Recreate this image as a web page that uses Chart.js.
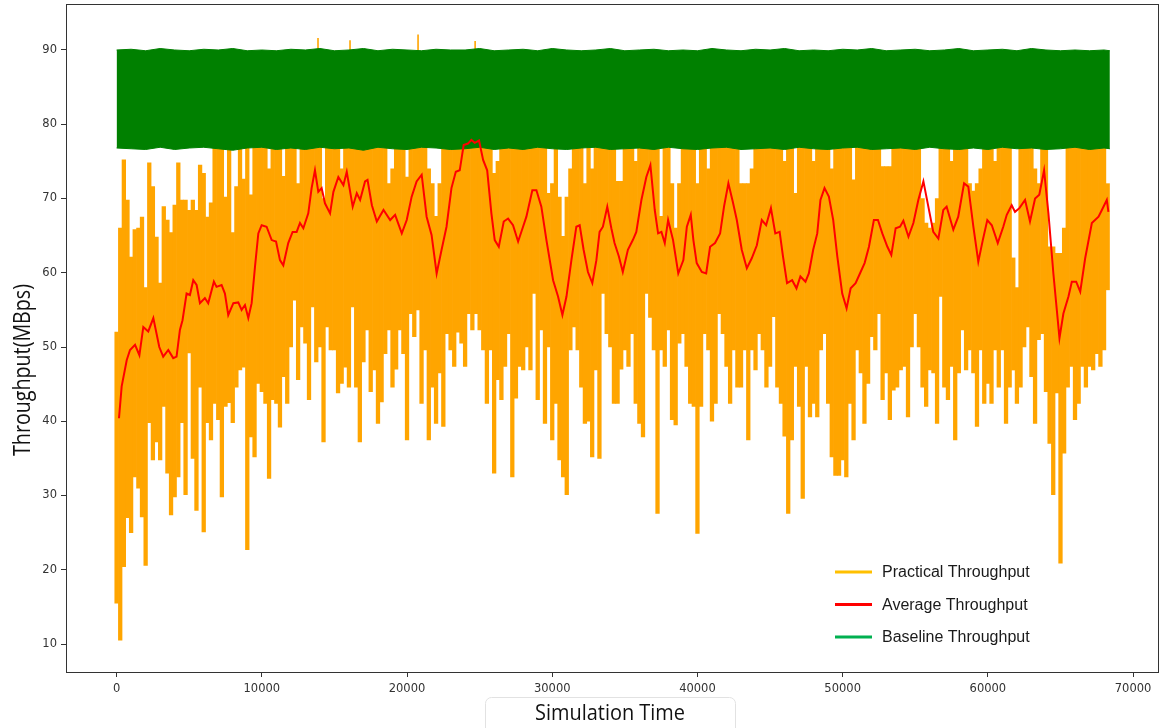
<!DOCTYPE html>
<html>
<head>
<meta charset="utf-8">
<title>Throughput over simulation time</title>
<script src="https://cdn.jsdelivr.net/npm/chart.js@4.4.1/dist/chart.umd.min.js"></script>
<style>
  html, body { margin: 0; padding: 0; background: #fff; }
  #wrap { width: 1161px; height: 728px; }
</style>
</head>
<body>
<div id="wrap"><canvas id="throughputChart" width="1161" height="728"></canvas></div>
<script>
// practical throughput: min and max of the samples in each 250-unit time slot
const sampleStep = 250;
const practicalLow = [
  15.5, 10.5, 20.4, 27, 25, 32.5, 31, 27.1, 20.6, 39.8,
  34.8, 37.2, 34.8, 42, 33, 27.4, 29.8, 32.5, 39.8, 30.1,
  49.2, 35, 28, 44.6, 25.1, 39.8, 37.5, 42.4, 40.2, 29.8,
  42, 42.5, 39.8, 44.6, 46.9, 47.3, 22.7, 37.9, 35.2, 45.1,
  44, 42.4, 32.3, 42.9, 42.4, 39.2, 46, 42.4, 50, 56.3,
  45.6, 52.7, 50.5, 42.9, 55.4, 48, 50, 37.2, 52.7, 49.6,
  49.6, 43.8, 45.1, 47.3, 44.6, 55.4, 44.6, 37.2,
  48, 52.3, 44, 46.9, 39.7, 42.6, 49.1, 52.3, 44.6, 47,
  52.3, 49.1, 37.5, 54.5, 51.4, 55, 42.4, 49.6, 37.5, 44.6,
  39.7, 46.5, 39.3, 51.8, 49.6, 47.4, 52, 50.5, 47.4, 54.5,
  52.3, 54.5, 52.3, 49.6, 42.4, 49.6, 33, 45.6, 42.9, 47.4,
  51.8, 32.5, 43.1, 47.4, 46.9, 50, 46.9, 57.2, 42.9, 52.3,
  39.7, 50, 37.5, 42.4, 34.8, 32.5, 30.1, 49.6, 52.7, 49.6,
  44.6, 39.7, 40, 35.2, 46.9, 35, 57.2, 51.8,
  50, 42.4, 42.4, 47, 49.6, 47.4, 51.8, 42.4, 39.7, 37.9,
  57.2, 54, 49.6, 27.6, 49.6, 47.4, 52.3, 40.2, 39.5, 50.5,
  51.8, 47.4, 42.4, 42, 24.9, 42, 51.8, 49.6, 40, 42.4,
  54.5, 51.8, 47.4, 42.4, 49.6, 44.6, 44.6, 49.6, 37.5, 49.6,
  46.9, 51.8, 49.6, 44.6, 47.4, 54.1, 44.6, 42.4, 38, 27.6,
  37.5, 47.4, 42, 29.6, 47.4, 40.6, 42.4, 40.6, 49.6, 51.8,
  42.4, 35.2, 32.7, 32.7, 34.8, 32.5, 42.4, 37.5, 49.6,
  46.5, 39.7, 45.1, 51.4, 49.6, 54.5, 42.9, 46.5, 40.2, 44.2,
  44.6, 46.9, 47.4, 40.6, 50, 54.5, 50, 44.6, 42, 46.9,
  46.5, 39.7, 56.8, 44.6, 42.9, 47.4, 37.5, 46.5, 52.3, 46.9,
  49.6, 46.5, 39.3, 49.6, 42.4, 45.1, 42.4, 49.6, 44.6, 49.6,
  39.7, 44.6, 46.9, 42.4, 44.6, 50, 52.7, 46, 39.7, 51,
  51.8, 44, 37, 30.1, 43.8, 20.9, 35.7, 44.6, 47.4, 40.2,
  42.4, 47.4, 44.6, 47.4, 46.9, 49.1, 47.4, 49.6, 57.7
];
const practicalHigh = [
  52, 66, 75.2, 69.8, 62.1, 65.8, 66, 67.5, 58, 74.8,
  71.6, 64.8, 58.6, 68.9, 67.1, 65.4, 69.1, 74.8, 69.8, 69.8,
  68.4, 69.8, 68.4, 74.5, 73.4, 67.5, 69.4, 77, 77, 77,
  70.2, 77, 65.4, 71.6, 77, 72.6, 77, 70.5, 77, 77,
  77, 77, 74, 77, 77, 77, 73, 77, 77, 77,
  72, 77, 77, 77, 77, 77, 77, 70, 77, 77,
  77, 77, 74, 77, 77, 77, 77, 77,
  77, 77, 77, 77, 77, 77, 77, 72, 74, 77,
  77, 77, 72.9, 77, 77, 77, 77, 77, 74, 72,
  67.6, 72, 77, 77, 77, 77, 77, 77, 77, 77,
  77, 77, 77, 77, 77, 77, 73.4, 75, 77, 77,
  77, 77, 77, 77, 77, 77, 77, 77, 77, 77,
  77, 70.7, 72, 77, 70.2, 64.9, 70.2, 74, 77, 77,
  77, 72, 77, 74, 77, 77, 77, 77,
  77, 77, 72.3, 72.3, 77, 77, 77, 75, 77, 77,
  77, 77, 77, 77, 67.6, 77, 77, 72, 66, 72,
  77, 77, 77, 77, 72, 77, 77, 74, 77, 77,
  77, 77, 77, 77, 77, 77, 72, 72, 72, 74,
  77, 77, 77, 77, 77, 77, 77, 77, 75, 77,
  77, 70.7, 77, 77, 77, 77, 75, 77, 77, 77,
  77, 74, 77, 77, 77, 77, 77, 72.5, 77,
  77, 77, 77, 77, 77, 77, 74.3, 74.3, 74.3, 77,
  77, 77, 77, 77, 77, 77, 77, 70, 66.7, 66,
  66.7, 70, 77, 77, 77, 75, 77, 77, 77, 77,
  72, 71, 72, 74, 77, 77, 77, 75, 77, 77,
  77, 77, 62, 58, 77, 77, 77, 77, 74, 72,
  77, 77, 63.5, 63.5, 62.6, 62.6, 66, 77, 77, 77,
  77, 77, 77, 77, 77, 77, 77, 77, 72
];
// the few practical samples that poke out above the baseline band
const peakTime = [13870, 16075, 20760, 24690];
const peakValue = [91.6, 91.3, 92.1, 91.2];

// baseline throughput band, one value every 1000 time units (last one at the end of the run)
const baselineHigh = [
  90.0, 90.1, 89.9, 90.2, 90.0, 89.9, 90.1, 90.0, 90.2, 89.9,
  90.0, 89.9, 90.1, 90.0, 90.2, 89.9, 90.0, 90.2, 89.9, 90.1,
  90.0, 89.9, 90.1, 90.0, 90.0, 90.2, 89.9, 90.0, 90.1, 89.9,
  90.2, 90.0, 89.9, 90.0, 90.2, 89.9, 90.0, 90.1, 89.9, 90.0,
  89.9, 90.2, 90.0, 89.9, 90.1, 90.0, 90.2, 89.9, 90.0, 89.9,
  90.1, 90.0, 90.2, 89.9, 90.0, 90.1, 89.9, 90.0, 90.2, 89.9,
  90.0, 90.1, 89.9, 90.2, 90.0, 89.9, 90.0, 89.9, 90.0, 89.9
];
const baselineLow = [
  76.8, 76.7, 76.6, 76.9, 76.6, 76.8, 76.9, 76.7, 76.5, 76.8,
  76.9, 76.6, 76.8, 76.6, 76.9, 76.7, 76.8, 76.5, 76.9, 76.7,
  76.6, 76.9, 76.8, 76.6, 76.7, 76.9, 76.6, 76.8, 76.6, 76.9,
  76.7, 76.6, 76.8, 76.9, 76.6, 76.7, 76.8, 76.6, 76.9, 76.7,
  76.6, 76.8, 76.9, 76.6, 76.7, 76.8, 76.6, 76.9, 76.7, 76.6,
  76.8, 76.9, 76.6, 76.7, 76.8, 76.6, 76.9, 76.7, 76.6, 76.8,
  76.6, 76.9, 76.7, 76.8, 76.6, 76.7, 76.9, 76.6, 76.8, 76.7
];

// running average
const avgTime = [
  165, 350, 700, 925, 1270, 1570, 1840, 2180, 2530, 2940,
  3210, 3560, 3900, 4130, 4360, 4540, 4820, 5050, 5280, 5510,
  5740, 6080, 6310, 6700, 6880, 7230, 7460, 7690, 8040, 8380,
  8610, 8840, 9070, 9300, 9530, 9760, 9990, 10330, 10680, 10980,
  11250, 11480, 11820, 12120, 12400, 12630, 12860, 13200, 13430, 13660,
  13890, 14120, 14350, 14700, 14930, 15270, 15620, 15850, 16260, 16540,
  16770, 17110, 17280, 17580, 17920, 18380, 18840, 19180, 19640, 19980,
  20320, 20660, 21010, 21350, 21690, 22040, 22380, 22720, 23060, 23360,
  23630, 23900, 24200, 24430, 24660, 24960, 25240, 25520, 25810, 26040,
  26320, 26660, 26960, 27300, 27650, 27990, 28220, 28630, 28910, 29250,
  29600, 30060, 30400, 30700, 30980, 31320, 31660, 31890, 32160, 32460,
  32760, 33040, 33260, 33490, 33790, 34070, 34290, 34590, 34860, 35210,
  35550, 35790, 36140, 36480, 36760, 37060, 37290, 37520, 37750, 37980,
  38320, 38680, 39030, 39270, 39540, 39720, 39950, 40300, 40600, 40870,
  41210, 41560, 41830, 42130, 42430, 42710, 43050, 43400, 43740, 44090,
  44430, 44730, 45060, 45360, 45660, 45890, 46170, 46520, 46820, 47090,
  47440, 47670, 47970, 48250, 48470, 48750, 49050, 49350, 49630, 49970,
  50270, 50550, 50890, 51190, 51510, 51810, 52150, 52430, 52730, 53080,
  53350, 53650, 53950, 54180, 54530, 54870, 55210, 55560, 55900, 56240,
  56590, 56930, 57160, 57620, 57960, 58360, 58650, 59000, 59340, 59650,
  59960, 60270, 60680, 61060, 61300, 61640, 61870, 62170, 62560, 62900,
  63250, 63540, 63870, 64170, 64510, 64930, 65200, 65550, 65780, 66080,
  66360, 66700, 67160, 67620, 67850, 68190, 68300
];
const avgValue = [
  40.4, 44.7, 48.25, 49.6, 50.3, 48.9, 52.7, 52.1, 53.9, 50.0,
  48.7, 49.6, 48.5, 48.7, 52.3, 53.6, 57.2, 57.0, 59.0, 58.35,
  55.9, 56.6, 55.9, 58.8, 58.1, 58.35, 57.2, 54.3, 55.9, 56.0,
  55.0, 55.65, 53.9, 55.9, 60.8, 65.3, 66.4, 66.2, 64.4, 64.2,
  61.7, 61.0, 64.0, 65.5, 65.5, 66.7, 66.0, 68.0, 71.4, 73.8,
  70.9, 71.4, 69.35, 68.0, 70.9, 72.9, 71.8, 73.6, 68.9, 70.7,
  69.8, 72.3, 72.5, 69.1, 66.9, 68.45, 67.1, 67.8, 65.3, 67.1,
  70.25, 72.3, 73.2, 67.55, 65.1, 59.9, 63.1, 66.2, 71.4, 73.6,
  73.8, 77.2, 77.4, 77.9, 77.5, 77.8, 75.2, 73.8, 68.0, 64.4,
  63.5, 66.9, 67.3, 66.4, 64.2, 66.2, 67.55, 71.1, 71.1, 68.9,
  64.4, 59.0, 56.8, 54.3, 56.8, 61.7, 66.2, 66.4, 63.1, 60.1,
  58.6, 61.7, 65.5, 66.2, 68.9, 66.0, 64.0, 62.2, 60.1, 63.1,
  64.4, 65.5, 69.8, 72.9, 74.5, 68.45, 65.3, 65.5, 64.0, 67.1,
  64.4, 59.9, 61.7, 66.2, 67.8, 64.4, 61.3, 60.1, 59.9, 63.5,
  64.0, 65.3, 68.9, 72.05, 69.6, 67.1, 63.1, 60.6, 61.95, 63.7,
  67.1, 66.4, 68.7, 65.3, 65.5, 62.2, 58.6, 59.0, 57.9, 59.5,
  58.8, 59.9, 63.1, 65.3, 69.8, 71.4, 70.25, 67.1, 62.2, 57.2,
  55.2, 57.9, 58.6, 59.9, 61.3, 63.5, 67.1, 67.1, 65.3, 63.5,
  62.4, 66.0, 66.2, 67.0, 64.85, 66.7, 69.8, 72.3, 68.9, 65.5,
  64.6, 68.45, 68.9, 65.8, 67.55, 72.05, 71.6, 66.2, 61.5, 64.4,
  67.1, 66.4, 64.0, 66.2, 67.8, 69.1, 68.2, 68.7, 69.8, 66.9,
  70.0, 70.5, 73.8, 68.0, 59.9, 51.2, 54.5, 56.8, 58.8, 58.8,
  57.45, 61.95, 66.7, 67.55, 68.45, 69.8, 68.2
];

const xTicks = [0, 10000, 20000, 30000, 40000, 50000, 60000, 70000];
const yTicks = [10, 20, 30, 40, 50, 60, 70, 80, 90];

document.addEventListener('DOMContentLoaded', () => {

    const toPoints = (times, values) => values.map((v, i) => ({ x: times[i], y: v }));

    const sampleTime = practicalLow.map((_, i) => i * sampleStep);
    const baselineTime = baselineHigh.map((_, i) => i < baselineHigh.length - 1 ? i * 1000 : 68400);

    const practicalBars = sampleTime.map((t, i) => ({ x: t, y: [practicalLow[i], practicalHigh[i]] }));

    const peakPoints = [];
    peakTime.forEach((t, i) => {
        peakPoints.push({ x: t, y: 76 }, { x: t, y: peakValue[i] }, { x: t, y: null });
    });

    const orange = '#FFA500';
    const green = '#008000';

    // frame round the plot area
    const framePlugin = {
        id: 'frame',
        afterDraw(chart){
            const { ctx, chartArea: a } = chart;
            ctx.save();
            ctx.strokeStyle = '#333';
            ctx.lineWidth = 1;
            ctx.strokeRect(a.left - 0.5, a.top - 0.5, a.right - a.left + 1, a.bottom - a.top + 1);
            ctx.restore();
        }
    };

    // axis titles, placed where the original has them
    const titlesPlugin = {
        id: 'titles',
        afterDraw(chart){
            const ctx = chart.ctx;
            ctx.save();
            // faint box behind the x title
            ctx.strokeStyle = '#e2e2e2';
            ctx.lineWidth = 1;
            ctx.beginPath();
            ctx.roundRect(485.5, 697.5, 250, 40, 6);
            ctx.stroke();

            ctx.fillStyle = '#111';
            ctx.textAlign = 'center';
            ctx.textBaseline = 'middle';
            ctx.font = '22px "Open Sans"';
            ctx.fillText('Simulation Time', 610, 714, 150);

            ctx.translate(23, 370);
            ctx.rotate(-Math.PI / 2);
            ctx.font = '23px "Open Sans"';
            ctx.fillText('Throughput(MBps)', 0, 0, 172);
            ctx.restore();
        }
    };

    // legend in the lower right corner of the plot
    const legendPlugin = {
        id: 'cornerLegend',
        afterDraw(chart){
            const ctx = chart.ctx;
            const items = chart.data.datasets.filter(ds => ds.legendColor);
            ctx.save();
            ctx.font = '16px "Liberation Sans"';
            ctx.textBaseline = 'middle';
            ctx.textAlign = 'left';
            items.forEach((ds, i) => {
                const y = 572 + i * 32.5;
                ctx.strokeStyle = ds.legendColor;
                ctx.lineWidth = 3;
                ctx.beginPath();
                ctx.moveTo(835, y);
                ctx.lineTo(872, y);
                ctx.stroke();
                ctx.fillStyle = '#1a1a1a';
                ctx.fillText(ds.label, 882, y + 1);
            });
            ctx.restore();
        }
    };

    const el = document.getElementById('throughputChart');
    new Chart(el.getContext('2d'), {
        type: 'line',
        data: {
            datasets: [
                { type: 'bar', label: 'Practical Throughput', legendColor: '#FFC000', data: practicalBars,
                  backgroundColor: orange, borderWidth: 0, barPercentage: 1, categoryPercentage: 1,
                  grouped: false, order: 5 },
                { label: 'practical peaks', data: peakPoints,
                  borderColor: orange, borderWidth: 1.6, fill: false, spanGaps: false, order: 4 },
                { label: 'Average Throughput', legendColor: '#FF0000', data: toPoints(avgTime, avgValue),
                  borderColor: '#FF0000', borderWidth: 2, fill: false, order: 0 },
                { label: 'Baseline Throughput', legendColor: '#00B050', data: toPoints(baselineTime, baselineLow),
                  borderColor: green, borderWidth: 1, fill: false, order: 3 },
                { label: 'baseline upper edge', data: toPoints(baselineTime, baselineHigh),
                  borderColor: green, borderWidth: 1, backgroundColor: green, fill: '-1', order: 3 }
            ]
        },
        options: {
            responsive: false,
            animation: false,
            layout: { padding: { top: 5, right: 3, left: 0, bottom: 0 } },
            elements: { point: { radius: 0 }, line: { tension: 0 } },
            plugins: { legend: { display: false }, tooltip: { enabled: false } },
            scales: {
                x: {
                    type: 'linear', min: -3415, max: 71715, offset: false,
                    afterFit: s => { s.height = 56; s.paddingLeft = 0; s.paddingRight = 0; },
                    afterBuildTicks: s => { s.ticks = xTicks.map(v => ({ value: v })); },
                    ticks: { color: '#333', font: { family: 'DejaVu Sans', size: 11.5 }, padding: 5, maxRotation: 0,
                             callback: v => String(v) },
                    grid: { drawOnChartArea: false, drawTicks: true, tickLength: 5, color: '#333', offset: false },
                    border: { display: false }
                },
                y: {
                    type: 'linear', min: 6.23, max: 96.06,
                    afterFit: s => { s.width = 67; s.paddingTop = 0; s.paddingBottom = 0; },
                    afterBuildTicks: s => { s.ticks = yTicks.map(v => ({ value: v })); },
                    ticks: { color: '#333', font: { family: 'DejaVu Sans', size: 11.5 }, padding: 4,
                             callback: v => String(v) },
                    grid: { drawOnChartArea: false, drawTicks: true, tickLength: 6, color: '#333' },
                    border: { display: false }
                }
            }
        },
        plugins: [framePlugin, titlesPlugin, legendPlugin]
    });

});
</script>
</body>
</html>
